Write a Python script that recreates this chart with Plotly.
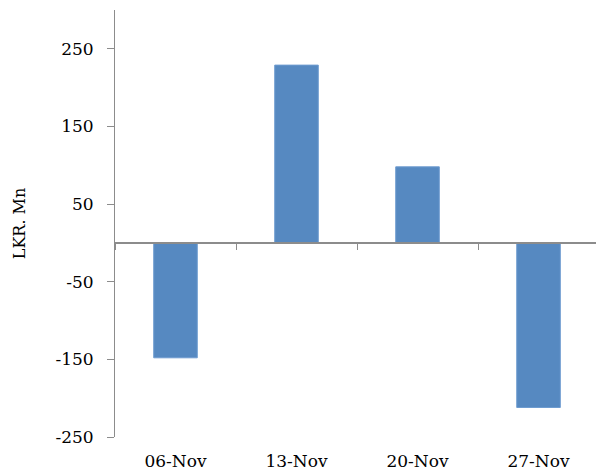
import plotly.graph_objects as go

# Weekly net flow, LKR millions
weeks = ["06-Nov", "13-Nov", "20-Nov", "27-Nov"]
net_flow = [-148, 229, 98, -212]

y_ticks = [250, 150, 50, -50, -150, -250]

bar_color = "#5689C1"
axis_gray = "#8C8C8C"
font_family = "DejaVu Serif"

fig = go.Figure()

fig.add_trace(go.Bar(
    x=weeks,
    y=net_flow,
    width=0.36,
    marker=dict(color=bar_color, line=dict(color="#6E9CD0", width=1)),
    showlegend=False,
))

# Invisible trace on a second x-axis so the category axis at zero gets drawn
fig.add_trace(go.Bar(
    x=weeks, y=[0, 0, 0, 0], xaxis="x2", yaxis="y",
    marker=dict(color="rgba(0,0,0,0)"), showlegend=False, hoverinfo="skip",
))

y_min, y_max = -250, 300
zero_frac = (0 - y_min) / (y_max - y_min)

fig.update_layout(
    width=596,
    height=471,
    margin=dict(l=115, r=0, t=10, b=34),
    plot_bgcolor="white",
    paper_bgcolor="white",
    font=dict(family=font_family, size=17, color="#000000"),
    bargap=0.64,
    xaxis=dict(
        type="category",
        range=[-0.5, 3.475],
        showline=False,
        showgrid=False,
        zeroline=False,
        ticks="",
        ticklabelstandoff=12,
        tickfont=dict(size=17),
    ),
    xaxis2=dict(
        type="category",
        overlaying="x",
        matches="x",
        anchor="free",
        position=zero_frac,
        side="bottom",
        showline=True,
        linecolor=axis_gray,
        linewidth=1.5,
        ticks="outside",
        tickson="boundaries",
        ticklen=6,
        tickwidth=1,
        tickcolor=axis_gray,
        showticklabels=False,
        showgrid=False,
        zeroline=False,
    ),
    yaxis=dict(
        range=[y_min, y_max],
        tickvals=y_ticks,
        ticktext=[str(v) for v in y_ticks],
        showline=True,
        linecolor=axis_gray,
        linewidth=1,
        ticks="outside",
        ticklen=7,
        tickcolor=axis_gray,
        showgrid=False,
        zeroline=False,
        ticklabelstandoff=10,
        title=dict(text="LKR. Mn", font=dict(size=16), standoff=25),
    ),
)

fig.write_html("out.html")
